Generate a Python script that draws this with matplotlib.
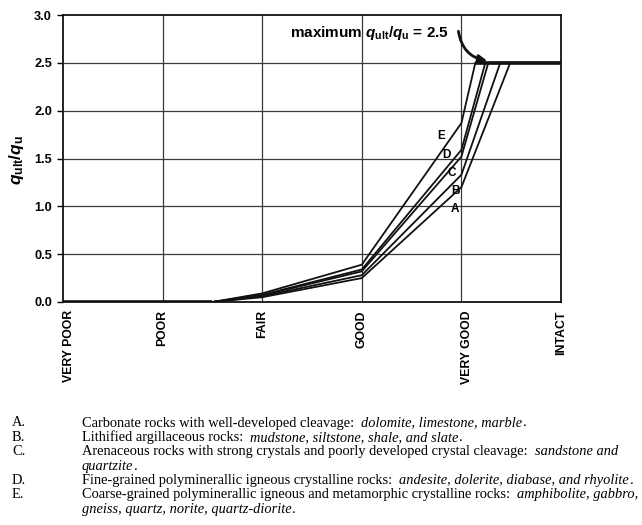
import matplotlib
matplotlib.use("Agg")
import matplotlib.pyplot as plt
import matplotlib.transforms as mtransforms

plt.rcParams["mathtext.fontset"] = "custom"
plt.rcParams["mathtext.rm"] = "Liberation Sans:bold"
plt.rcParams["mathtext.it"] = "Liberation Sans:italic:bold"
plt.rcParams["mathtext.bf"] = "Liberation Sans:bold"

# Rock mass quality classes along the horizontal axis
categories = ["VERY POOR", "POOR", "FAIR", "GOOD", "VERY GOOD", "INTACT"]
cat_pos = [0, 1, 2, 3, 4, 5]

# Bearing capacity ratio curves for rock groups A-E
curve_names = ["A", "B", "C", "D", "E"]
onset = 1.5                       # ratio is zero up to this point
ratio_fair = [0.05, 0.06, 0.07, 0.075, 0.09]
ratio_good = [0.25, 0.28, 0.32, 0.34, 0.39]
ratio_vgood = [1.20, 1.33, 1.52, 1.59, 1.87]
cap_pos = [4.49, 4.39, 4.27, 4.24, 4.14]   # where each curve reaches the cap
ratio_cap = 2.5

# Curve label positions (data coords)
label_x = [3.94, 3.94, 3.90, 3.85, 3.80]
label_y = [0.97, 1.16, 1.35, 1.54, 1.73]

yticks = [0.0, 0.5, 1.0, 1.5, 2.0, 2.5, 3.0]

notes = [
    ("A.", [("Carbonate rocks with well-developed cleavage:  ", "normal"),
            ("dolomite, limestone, marble", "italic"), (".", "normal")]),
    ("B.", [("Lithified argillaceous rocks:  ", "normal"),
            ("mudstone, siltstone, shale, and slate", "italic"), (".", "normal")]),
    ("C.", [("Arenaceous rocks with strong crystals and poorly developed crystal cleavage:  ", "normal"),
            ("sandstone and", "italic")]),
    ("", [("quartzite", "italic"), (".", "normal")]),
    ("D.", [("Fine-grained polyminerallic igneous crystalline rocks:  ", "normal"),
            ("andesite, dolerite, diabase, and rhyolite", "italic"), (".", "normal")]),
    ("E.", [("Coarse-grained polyminerallic igneous and metamorphic crystalline rocks:  ", "normal"),
            ("amphibolite, gabbro,", "italic")]),
    ("", [("gneiss, quartz, norite, quartz-diorite", "italic"), (".", "normal")]),
]
note_y_px = [423, 437.5, 451.7, 466.2, 480.3, 494.5, 509.5]

W, H = 642, 525
fig = plt.figure(figsize=(W / 100, H / 100), dpi=100)
ax = fig.add_axes([63 / W, 1 - 302 / H, (561 - 63) / W, (302 - 15) / H])

sans = "Liberation Sans"
serif = "Liberation Serif"

# grid
for v in yticks[1:-1]:
    ax.axhline(v, color="#3a3a3a", lw=0.9, zorder=1)
for p in cat_pos[1:-1]:
    ax.axvline(p, color="#3a3a3a", lw=0.9, zorder=1)

# curves
for i in range(len(curve_names)):
    xs = [cat_pos[0], onset, cat_pos[2], cat_pos[3], cat_pos[4], cap_pos[i], cat_pos[5]]
    ys = [0, 0, ratio_fair[i], ratio_good[i], ratio_vgood[i], ratio_cap, ratio_cap]
    ax.plot(xs, ys, color="#111111", lw=1.3, solid_joinstyle="miter", zorder=3)
    ax.text(label_x[i], label_y[i], curve_names[i], fontsize=8.5, fontweight="bold",
            family=sans, ha="center", va="center", zorder=4)

# shared floor and plateau segments
ax.plot([cat_pos[0], onset], [0, 0], color="#111111", lw=2.6, zorder=3, solid_capstyle="butt")
ax.plot([min(cap_pos), cat_pos[5]], [ratio_cap, ratio_cap], color="#111111", lw=2.6,
        zorder=3, solid_capstyle="butt")

ax.set_xlim(cat_pos[0], cat_pos[-1])
ax.set_ylim(yticks[0], yticks[-1])
ax.set_yticks(yticks)
ax.set_yticklabels([f"{v:.1f}" for v in yticks], fontsize=9.2, fontweight="bold", family=sans)
ax.set_xticks(cat_pos)
ax.set_xticklabels(categories, rotation=90, fontsize=8.8, fontweight="bold", family=sans,
                   va="top", ha="center")
ax.tick_params(axis="y", length=4, width=1, pad=4.0, direction="out")
ax.tick_params(axis="x", length=0, pad=6)
for s in ax.spines.values():
    s.set_linewidth(1.3)
    s.set_color("#111111")

# nudge the two-word labels slightly right
for lbl in ax.get_xticklabels():
    if lbl.get_text().startswith("VERY"):
        lbl.set_transform(lbl.get_transform() +
                          mtransforms.ScaledTranslation(6 / 100, 0, fig.dpi_scale_trans))

fig.text(17 / W, 1 - 160 / H, r"$q_{\mathrm{ult}}/q_{\mathrm{u}}$", rotation=90,
         ha="center", va="center", fontsize=12.5)

# maximum annotation
ax.text(3.87, 2.81, r"maximum $q_{\mathrm{ult}}/q_{\mathrm{u}}$ = 2.5", ha="right", va="center",
        fontsize=11, fontweight="bold", family=sans)
ax.annotate("", xy=(4.26, 2.52), xytext=(3.97, 2.83),
            arrowprops=dict(arrowstyle="-|>,head_length=0.5,head_width=0.25", color="#111111",
                            lw=2.0, connectionstyle="arc3,rad=0.35", shrinkA=0, shrinkB=0),
            zorder=5)

# footnotes with mixed roman / italic runs
note_size = 10.35
fig.canvas.draw()
renderer = fig.canvas.get_renderer()
for (key, runs), ypx in zip(notes, note_y_px):
    yf = 1 - ypx / H
    if key:
        fig.text(12 / W, yf, key, family=serif, fontsize=note_size, va="center", ha="left")
    x = 82 / W
    for txt, style in runs:
        t = fig.text(x, yf, txt, family=serif, fontsize=note_size, fontstyle=style,
                     va="center", ha="left")
        bb = t.get_window_extent(renderer)
        x += (bb.width + (0.5 if style == "italic" else 0.0)) / W

fig.savefig("out.png", dpi=100)
